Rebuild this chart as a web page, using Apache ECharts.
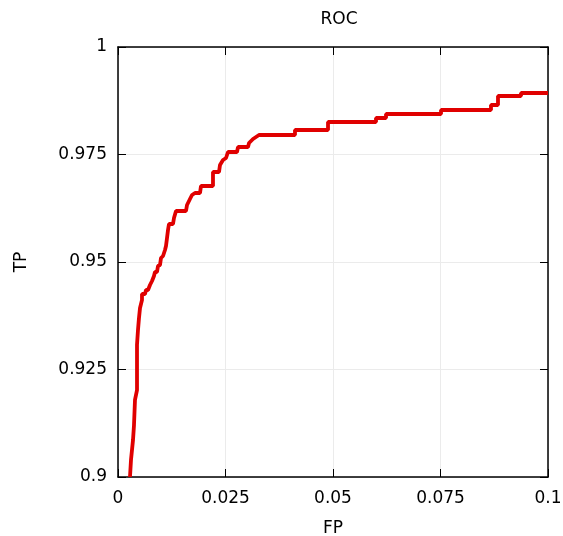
<!DOCTYPE html>
<html>
<head>
<meta charset="utf-8">
<script src="https://cdn.jsdelivr.net/npm/echarts@6/dist/echarts.min.js"></script>
<style>html,body{margin:0;padding:0;background:#fff}#c{width:563px;height:536px}</style>
</head>
<body>
<div id="c"></div>
<script>
const fpValues = [0.00279,0.00302,0.00349,0.00372,0.00395,0.00442,0.00442,0.00465,0.00488,0.00512,0.00558,0.00558,0.00628,0.00651,0.00698,0.00744,0.00791,0.00837,0.00860,0.00907,0.00930,0.00977,0.01000,0.01047,0.01093,0.01116,0.01140,0.01163,0.01186,0.01279,0.01302,0.01349,0.01581,0.01605,0.01651,0.01674,0.01721,0.01767,0.01791,0.01907,0.01930,0.02209,0.02209,0.02349,0.02372,0.02442,0.02512,0.02558,0.02767,0.02791,0.03023,0.03047,0.03140,0.03279,0.04116,0.04116,0.04884,0.04884,0.06000,0.06000,0.06233,0.06233,0.07512,0.07512,0.08674,0.08674,0.08837,0.08837,0.09372,0.09372,0.1];
const tpValues = [0.9,0.90395,0.90860,0.91209,0.91791,0.92023,0.93070,0.93419,0.93698,0.93930,0.94116,0.94256,0.94256,0.94349,0.94349,0.94465,0.94558,0.94674,0.94767,0.94767,0.94907,0.94930,0.95093,0.95140,0.95279,0.95372,0.95558,0.95744,0.95884,0.95884,0.96023,0.96186,0.96186,0.96326,0.96372,0.96465,0.96558,0.96558,0.96605,0.96605,0.96767,0.96767,0.97093,0.97093,0.97256,0.97372,0.97419,0.97558,0.97558,0.97674,0.97674,0.97767,0.97860,0.97953,0.97953,0.98070,0.98070,0.98256,0.98256,0.98349,0.98349,0.98442,0.98442,0.98535,0.98535,0.98651,0.98651,0.98860,0.98860,0.98930,0.98930];
const xTicks = [0, 0.025, 0.05, 0.075, 0.1];
const yTicks = [0.9, 0.925, 0.95, 0.975, 1];
const xLabels = ['0','0.025','0.05','0.075','0.1'];
const yLabels = ['0.9','0.925','0.95','0.975','1'];

const font = 'DejaVu Sans';
const chart = echarts.init(document.getElementById('c'));
const data = fpValues.map((x, i) => [x, tpValues[i]]);
function fmt(ticks, labels){ return v => { const i = ticks.findIndex(t => Math.abs(t - v) < 1e-9); return i >= 0 ? labels[i] : ''; }; }
const common = {
  axisLine: {show: true, onZero: false, lineStyle: {color: '#000', width: 1.5}},
  axisTick: {show: true, inside: true, length: 8, lineStyle: {color: '#000', width: 1}},
};
chart.setOption({
  animation: false,
  title: {text: 'ROC', left: 334, top: 6, textAlign: 'center', textStyle: {fontFamily: font, fontSize: 17, fontWeight: 'normal', color: '#000'}},
  grid: {left: 118, right: 15, top: 47, bottom: 59, outerBoundsMode: 'none', containLabel: false},
  xAxis: [
    Object.assign({type: 'value', min: 0, max: 0.1, interval: 0.025, position: 'bottom',
      name: 'FP', nameLocation: 'middle', nameGap: 43, nameTextStyle: {fontFamily: font, fontSize: 17, color: '#000'},
      axisLabel: {fontFamily: font, fontSize: 17, color: '#000', margin: 13, formatter: fmt(xTicks, xLabels)},
      splitLine: {show: true, lineStyle: {color: '#ebebeb', width: 1}}}, common),
    Object.assign({type: 'value', min: 0, max: 0.1, interval: 0.025, position: 'top',
      axisLabel: {show: false}, splitLine: {show: false}}, common)
  ],
  yAxis: [
    Object.assign({type: 'value', min: 0.9, max: 1, interval: 0.025, position: 'left',
      name: 'TP', nameLocation: 'middle', nameGap: 88, nameTextStyle: {fontFamily: font, fontSize: 17, color: '#000'},
      axisLabel: {fontFamily: font, fontSize: 17, color: '#000', margin: 11, formatter: fmt(yTicks, yLabels)},
      splitLine: {show: true, lineStyle: {color: '#ebebeb', width: 1}}}, common),
    Object.assign({type: 'value', min: 0.9, max: 1, interval: 0.025, position: 'right',
      axisLabel: {show: false}, splitLine: {show: false}}, common)
  ],
  series: [{
    type: 'line', data: data, showSymbol: false, symbol: 'none',
    lineStyle: {color: '#e00000', width: 3.8}, clip: true
  }]
});
</script>
</body>
</html>
